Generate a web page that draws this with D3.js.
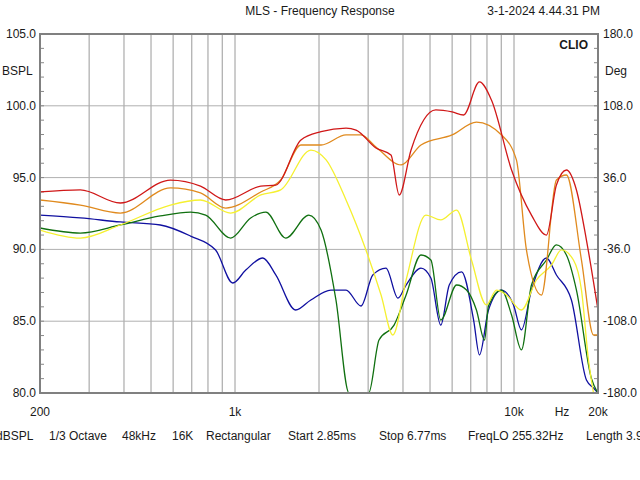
<!DOCTYPE html>
<html>
<head>
<style>
  body { margin: 0; background: #fff; font-family: "Liberation Sans", Arial, sans-serif; font-size: 12px; }
  text { fill: #1a1a1a; white-space: pre; }
</style>
</head>
<body>
<svg id="chart" width="640" height="480"></svg>
<script src="https://cdnjs.cloudflare.com/ajax/libs/d3/7.8.5/d3.min.js"></script>
<script>
// frequency (Hz), level (dB SPL)
var red = [[200,94.0],[279,94.14],[388,93.23],[587,94.83],[752,94.41],[926,93.44],[1237,94.41],[1400,94.48],[1723,97.62],[2034,98.2],[2500,98.45],[2716,98.31],[3200,97.06],[3622,96.57],[3876,93.79],[4275,96.92],[5245,99.71],[6000,99.57],[6594,99.36],[7520,101.66],[8300,100.4],[9800,95.53],[11550,92.39],[13070,91.0],[14190,94.48],[15410,95.53],[16740,94.14],[18180,90.65],[20000,85.78]];
var orange = [[200,93.44],[279,93.09],[388,92.53],[587,94.28],[752,93.93],[926,92.88],[1237,94.0],[1458,94.83],[1723,97.27],[2034,97.27],[2500,97.97],[2828,97.97],[3200,97.13],[3940,95.88],[4640,97.27],[6000,97.97],[7333,98.87],[9020,97.97],[10200,96.23],[11080,89.96],[12540,86.82],[14190,94.83],[15410,95.18],[17450,89.26],[19270,84.04],[20000,84.04]];
var yellow = [[200,91.35],[279,90.79],[388,91.70],[587,93.09],[752,93.44],[965,92.53],[1237,93.79],[1458,94.14],[1870,96.92],[2121,96.23],[2500,93.44],[2946,89.96],[3338,86.82],[3680,84.04],[4104,87.87],[4833,92.39],[5464,92.05],[6228,92.74],[7040,89.26],[7960,86.13],[8650,87.17],[9400,86.82],[10630,85.78],[12030,87.87],[13620,88.91],[14790,89.96],[16330,89.26],[17450,87.17],[18490,82.30],[19270,80.0]];
var green = [[200,91.49],[279,91.14],[388,91.70],[540,92.33],[693,92.6],[785,92.39],[965,90.79],[1138,92.19],[1290,92.6],[1519,90.79],[1839,92.39],[2034,91.35],[2300,86.48],[2563,80.0],[3013,80.0],[3282,83.69],[3716,84.73],[4104,86.82],[4640,89.61],[5035,89.26],[5464,85.08],[6228,87.52],[6758,87.17],[7333,85.78],[7840,83.69],[8100,86.06],[9020,87.17],[9800,85.43],[10630,83.0],[11550,87.52],[13070,89.26],[14190,90.31],[15410,89.61],[16740,87.17],[18950,81.0],[19970,80.0]];
var blue = [[200,92.39],[279,92.19],[388,91.91],[540,91.70],[693,90.93],[852,89.96],[982,87.66],[1093,88.56],[1258,89.40],[1400,88.22],[1649,85.78],[1870,86.48],[2206,87.17],[2500,87.17],[2828,86.06],[3118,88.22],[3477,88.70],[3836,86.61],[4104,87.52],[4640,88.70],[5035,88.01],[5464,84.73],[5860,87.52],[6488,88.43],[7165,85.08],[7520,82.65],[8100,85.78],[9020,87.17],[9960,86.13],[10630,84.39],[11550,87.17],[13070,89.40],[14190,88.22],[16060,86.48],[18180,80.9],[19270,80.35],[20000,80.0]];

var series = [
  {data: blue, color: "#1010a0"},
  {data: green, color: "#107010"},
  {data: yellow, color: "#f5f030"},
  {data: orange, color: "#e08a1e"},
  {data: red, color: "#d01818"}
];

var dbTicks = [80, 85, 90, 95, 100, 105];
var degTicks = [-180, -108, -36, 36, 108, 180];
var gridFreqs = [300,400,500,600,700,800,900,1000,2000,3000,4000,5000,6000,7000,8000,9000,10000];
var freqLabels = [[200,"200"],[1000,"1k"],[10000,"10k"],[20000,"20k"]];
var infoItems = [[-4,"dBSPL"],[49,"1/3 Octave"],[122,"48kHz"],[172,"16K"],[206,"Rectangular"],[288,"Start 2.85ms"],[379,"Stop 6.77ms"],[468,"FreqLO 255.32Hz"],[586,"Length 3.92ms"]];

var L = 40, R = 598, T = 34, B = 393;
var svg = d3.select("#chart");
var x = d3.scaleLog().domain([200, 20000]).range([L, R]);
var y = d3.scaleLinear().domain([80, 105]).range([B, T]);
var yd = d3.scaleLinear().domain([-180, 180]).range([B, T]);

svg.append("clipPath").attr("id", "clip").append("rect")
  .attr("x", L).attr("y", T).attr("width", R - L).attr("height", B - T);

// grid
svg.selectAll(".vg").data(gridFreqs).enter().append("line")
  .attr("x1", d => x(d)).attr("x2", d => x(d)).attr("y1", T).attr("y2", B)
  .attr("stroke", "#9a9a9a").attr("stroke-width", 1);
svg.selectAll(".hg").data(dbTicks.slice(1, -1)).enter().append("line")
  .attr("x1", L).attr("x2", R).attr("y1", d => y(d)).attr("y2", d => y(d))
  .attr("stroke", "#b0b0b0").attr("stroke-width", 1);

// minor ticks
var minor = d3.range(80, 105, 1);
svg.selectAll(".ml").data(minor).enter().append("line")
  .attr("x1", L).attr("x2", L + 4).attr("y1", d => y(d)).attr("y2", d => y(d)).attr("stroke", "#888");
svg.selectAll(".mr").data(minor).enter().append("line")
  .attr("x1", R - 4).attr("x2", R).attr("y1", d => y(d)).attr("y2", d => y(d)).attr("stroke", "#888");

// curves
var line = d3.line().x(d => x(d[0])).y(d => y(d[1])).curve(d3.curveMonotoneX);
svg.append("g").attr("clip-path", "url(#clip)").selectAll("path").data(series).enter().append("path")
  .attr("d", d => line(d.data)).attr("fill", "none")
  .attr("stroke", d => d.color).attr("stroke-width", 1.3);

// frame
svg.append("rect").attr("x", L).attr("y", T).attr("width", R - L).attr("height", B - T)
  .attr("fill", "none").attr("stroke", "#808080").attr("stroke-width", 2);

// labels
svg.selectAll(".ly").data(dbTicks).enter().append("text")
  .attr("x", 36).attr("y", d => y(d) + 4).attr("text-anchor", "end").text(d => d.toFixed(1));
svg.selectAll(".ry").data(degTicks).enter().append("text")
  .attr("x", 603).attr("y", d => yd(d) + 4).text(d => d.toFixed(1));
svg.selectAll(".fx").data(freqLabels).enter().append("text")
  .attr("x", d => x(d[0])).attr("y", 416).attr("text-anchor", "middle").text(d => d[1]);
svg.append("text").attr("x", 562).attr("y", 416).attr("text-anchor", "middle").text("Hz");
svg.append("text").attr("x", 2).attr("y", 75).text("BSPL");
svg.append("text").attr("x", 605).attr("y", 75).text("Deg");
svg.append("text").attr("x", 320).attr("y", 15).attr("text-anchor", "middle").text("MLS - Frequency Response");
svg.append("text").attr("x", 600).attr("y", 15).attr("text-anchor", "end").text("3-1-2024 4.44.31 PM");
svg.append("text").attr("x", 588).attr("y", 49).attr("text-anchor", "end").attr("font-weight", "bold").text("CLIO");
svg.selectAll(".info").data(infoItems).enter().append("text")
  .attr("x", d => d[0]).attr("y", 440).text(d => d[1]);
</script>
</body>
</html>
